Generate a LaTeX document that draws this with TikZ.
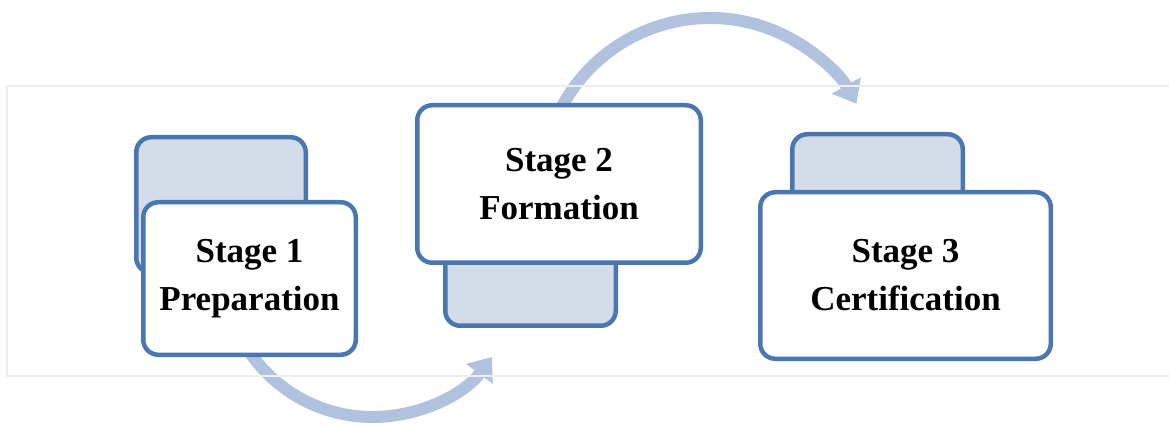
\documentclass[tikz,border=0pt]{standalone}
\usepackage{fontspec}
\setmainfont{Liberation Serif}
\usetikzlibrary{arrows.meta,calc}
\definecolor{boxblue}{HTML}{4A77B0}
\definecolor{backfill}{HTML}{D4DCEA}
\definecolor{flowblue}{HTML}{B0C2DE}
\definecolor{framegray}{HTML}{EEEEEE}
\tikzset{
  frontbox/.style={draw=boxblue, fill=white, line width=4.5pt, rounded corners=15pt,
    inner sep=0pt, align=center, font=\fontsize{35}{48}\selectfont\bfseries},
  backbox/.style={draw=boxblue, fill=backfill, line width=4.5pt, rounded corners=15pt, inner sep=0pt},
  flow/.style={draw=flowblue, line width=12pt, -{Triangle[length=21pt,width=32pt]}},
}
\begin{document}
\begin{tikzpicture}[x=1pt,y=-1pt]
\path[use as bounding box] (0,0) rectangle (1169,427);
% connectors (behind boxes)
\coordinate (f1s) at ($(372.5,268)+(150:149)$);
\coordinate (f2s) at ($(710,186)+(205:168)$);
\draw[flow] (f1s) arc[start angle=150, end angle=36.7, radius=149];
\draw[flow] (f2s) arc[start angle=205, end angle=330.7, radius=168];
% light frame
\draw[framegray, line width=1.5pt] (1180,86) -- (7,86) -- (7,376) -- (1180,376);
% Stage 1
\node[backbox, minimum width=169.5pt, minimum height=135.5pt] (b1) at (221,205) {};
\node[frontbox, minimum width=212.5pt, minimum height=152.5pt] (s1) at (249.5,278.5) {Stage 1\\Preparation};
% Stage 2
\node[backbox, minimum width=170.5pt, minimum height=93.5pt] (b2) at (530.5,279) {};
\node[frontbox, minimum width=283.5pt, minimum height=157.5pt] (s2) at (559,184) {Stage 2\\Formation};
% Stage 3
\node[backbox, minimum width=170.5pt, minimum height=93.5pt] (b3) at (877.5,181) {};
\node[frontbox, minimum width=290.5pt, minimum height=166.5pt] (s3) at (905.5,275.5) {Stage 3\\Certification};
\end{tikzpicture}
\end{document}
